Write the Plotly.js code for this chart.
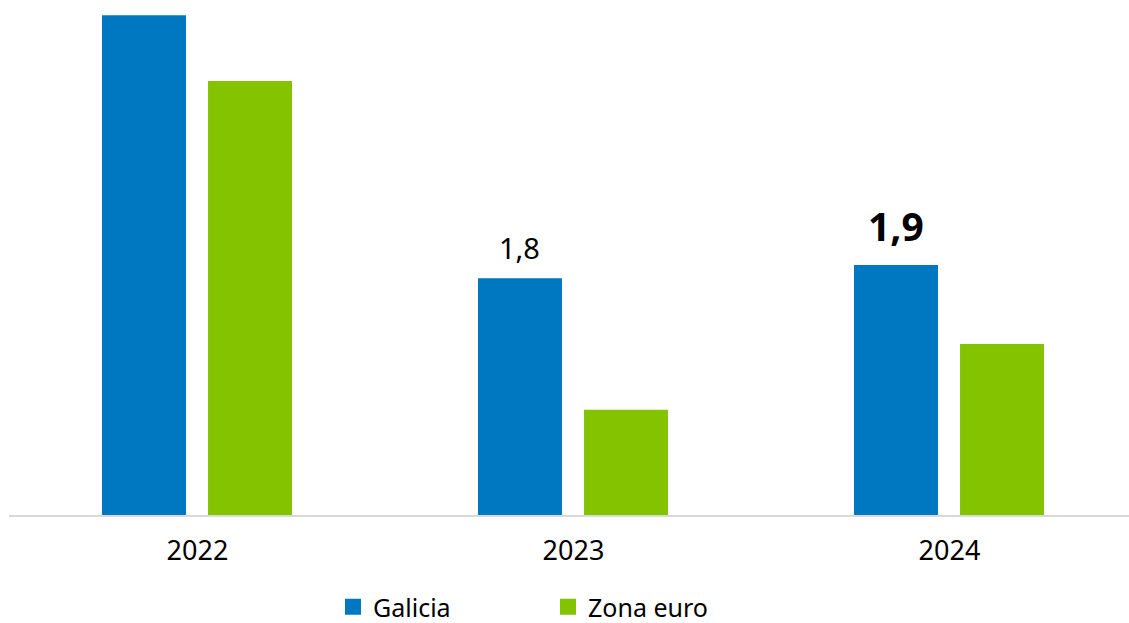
<!DOCTYPE html>
<html>
<head>
<meta charset="utf-8">
<script src="https://cdn.plot.ly/plotly-3.0.1.min.js"></script>
<style>html,body{margin:0;padding:0;background:#fff;}#chart{width:1129px;height:623px;}</style>
</head>
<body>
<div id="chart"></div>
<script>
var years = ['2022', '2023', '2024'];
var galicia = [3.8, 1.8, 1.9];
var zonaEuro = [3.3, 0.8, 1.3];
var galiciaLabels = ['', '1,8', '1,9'];
var galiciaLabelBold = [false, false, true];

var FONT = 'Noto Sans, sans-serif';
var BLUE = '#0078c1';
var GREEN = '#84c300';

var traces = [
  {type: 'bar', x: years, y: galicia, name: 'Galicia', marker: {color: BLUE}, width: 0.2234, offset: -0.254, showlegend: false, hoverinfo: 'x+y'},
  {type: 'bar', x: years, y: zonaEuro, name: 'Zona euro', marker: {color: GREEN}, width: 0.2234, offset: 0.028, showlegend: false, hoverinfo: 'x+y'},
  {type: 'scatter', mode: 'markers', x: [null], y: [null], name: 'Galicia', marker: {symbol: 'square', size: 16, color: BLUE}},
  {type: 'scatter', mode: 'markers', x: [null], y: [null], name: 'Zona euro', marker: {symbol: 'square', size: 16, color: GREEN}}
];

var annotations = [];
for (var i = 0; i < years.length; i++) {
  if (!galiciaLabels[i]) continue;
  var bold = galiciaLabelBold[i];
  annotations.push({
    x: i, y: galicia[i], xref: 'x', yref: 'y',
    xshift: -53.5,
    text: bold ? '<b>' + galiciaLabels[i] + '</b>' : galiciaLabels[i],
    showarrow: false, yanchor: 'bottom', yshift: bold ? 11 : 9,
    font: {family: FONT, size: bold ? 39 : 29, color: '#000'}
  });
}

var layout = {
  width: 1129, height: 623,
  margin: {l: 9, r: 0, t: 2, b: 108},
  paper_bgcolor: '#fff', plot_bgcolor: '#fff',
  barmode: 'overlay',
  font: {family: FONT, color: '#000'},
  xaxis: {
    type: 'category', range: [-0.5013, 2.4774],
    showline: true, linecolor: '#d9d9d9', linewidth: 2,
    showgrid: false, zeroline: false, ticks: '',
    ticklabelstandoff: 11,
    tickfont: {family: FONT, size: 27, color: '#000'},
    fixedrange: true
  },
  yaxis: {
    range: [0, 3.9], showgrid: false, zeroline: false,
    showticklabels: false, showline: false, fixedrange: true
  },
  showlegend: true,
  legend: {
    orientation: 'h', xref: 'container', yref: 'container',
    x: 333 / 1129, xanchor: 'left', y: 16 / 623, yanchor: 'middle',
    font: {family: FONT, size: 25, color: '#000'},
    entrywidth: 170, entrywidthmode: 'pixels',
    itemclick: false, itemdoubleclick: false
  },
  annotations: annotations
};

Plotly.newPlot('chart', traces, layout, {displayModeBar: false, staticPlot: true});
</script>
</body>
</html>
